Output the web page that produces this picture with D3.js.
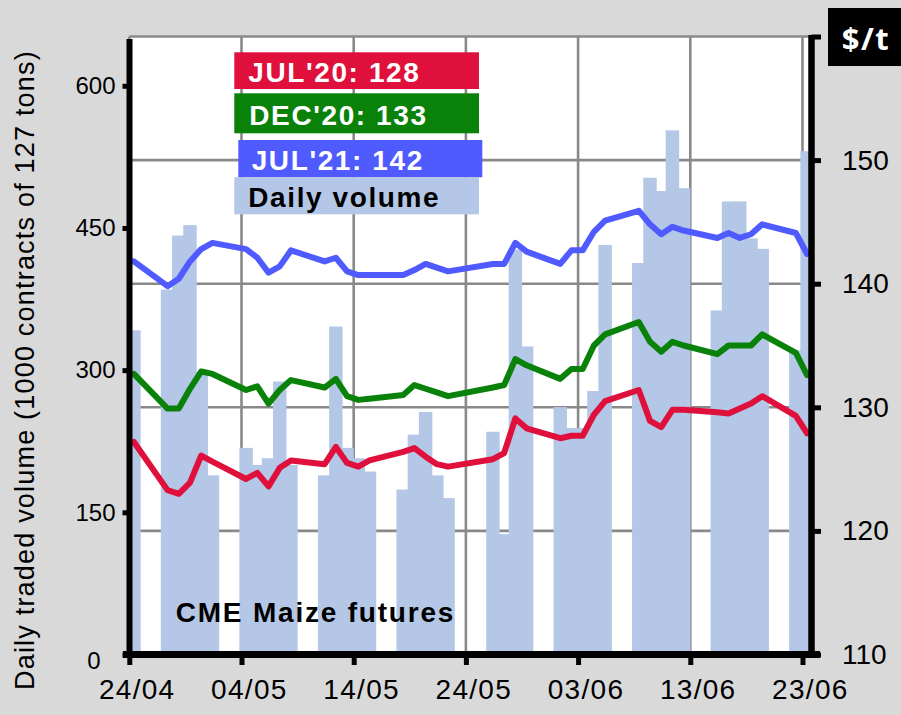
<!DOCTYPE html>
<html>
<head>
<meta charset="utf-8">
<script src="https://cdn.jsdelivr.net/npm/d3@7"></script>
<style>
  html, body { margin: 0; padding: 0; background: #d9d9d9; }
  svg { display: block; font-family: "Liberation Sans", Arial, sans-serif; }
</style>
</head>
<body>
<div id="chart"></div>
<script>
// trading days, CME maize futures, spring 2020
const DATES = [
  "2020-04-24", "2020-04-27", "2020-04-28", "2020-04-29", "2020-04-30", "2020-05-01",
  "2020-05-04", "2020-05-05", "2020-05-06", "2020-05-07", "2020-05-08",
  "2020-05-11", "2020-05-12", "2020-05-13", "2020-05-14", "2020-05-15",
  "2020-05-18", "2020-05-19", "2020-05-20", "2020-05-21", "2020-05-22",
  "2020-05-26", "2020-05-27", "2020-05-28", "2020-05-29",
  "2020-06-01", "2020-06-02", "2020-06-03", "2020-06-04", "2020-06-05",
  "2020-06-08", "2020-06-09", "2020-06-10", "2020-06-11", "2020-06-12",
  "2020-06-15", "2020-06-16", "2020-06-17", "2020-06-18", "2020-06-19",
  "2020-06-22", "2020-06-23"
];

// daily volume, 1000 contracts
const VOLUME = [
  342, 385, 442, 453, 298, 189,
  218, 200, 207, 288, 200,
  189, 346, 218, 207, 193,
  174, 232, 256, 189, 165,
  235, 127, 427, 325,
  261, 239, 239, 278, 432,
  413, 503, 489, 553, 492,
  363, 478, 478, 439, 428,
  321, 531
];

// prices, $/t
const JUL20 = [
  127.2, 123.3, 123.0, 123.9, 126.1, 125.6,
  124.2, 124.7, 123.6, 125.1, 125.7,
  125.4, 126.8, 125.5, 125.2, 125.7,
  126.4, 126.7, 126.0, 125.4, 125.2,
  125.8, 126.3, 129.1, 128.3,
  127.5, 127.7, 127.7, 129.4, 130.5,
  131.4, 128.9, 128.4, 129.8, 129.8,
  129.6, 129.5, 129.9, 130.3, 130.9,
  129.3, 127.9
];
const DEC20 = [
  132.7, 129.9, 129.9, 131.5, 132.9, 132.7,
  131.4, 131.7, 130.3, 131.4, 132.2,
  131.6, 132.3, 130.9, 130.6, 130.7,
  131.0, 131.8, 131.5, 131.2, 130.9,
  131.6, 131.8, 133.9, 133.4,
  132.3, 133.1, 133.1, 135.0, 135.9,
  136.9, 135.3, 134.5, 135.3, 135.0,
  134.3, 135.0, 135.0, 135.0, 135.9,
  134.4, 132.6
];
const JUL21 = [
  141.8, 139.8, 140.4, 141.8, 142.8, 143.3,
  142.8, 142.1, 140.9, 141.4, 142.7,
  141.8, 142.1, 141.0, 140.7, 140.7,
  140.7, 141.1, 141.6, 141.3, 141.0,
  141.6, 141.6, 143.3, 142.6,
  141.6, 142.7, 142.7, 144.2, 145.1,
  145.9, 144.8, 144.0, 144.6, 144.3,
  143.7, 144.1, 143.7, 144.0, 144.8,
  144.1, 142.4
];

const SERIES_NAMES = ["JUL'20", "DEC'20", "JUL'21"];
const SERIES_COLORS = ["#e0103c", "#0a820a", "#4f5aff"];
const VOLUME_NAME = "Daily volume";

const X_TICKS = ["2020-04-24", "2020-05-04", "2020-05-14", "2020-05-24", "2020-06-03", "2020-06-13", "2020-06-23"];
const LEFT_TICKS = [0, 150, 300, 450, 600];
const RIGHT_TICKS = [110, 120, 130, 140, 150, 160];

const W = 901, H = 715;
const plot = { left: 129.5, right: 811.5, top: 36.5, bottom: 654.5 };
const GRID = "#898989", BAR = "#b4c7e7";

const parse = d3.utcParse("%Y-%m-%d");
const days = DATES.map(parse);

const x = d3.scaleUtc()
  .domain([parse("2020-04-24"), parse("2020-06-24")])
  .range([129.3, 813.7]);
const yVol = d3.scaleLinear().domain([0, 652]).range([plot.bottom, plot.top]);
const yPx = d3.scaleLinear().domain([110, 160]).range([plot.bottom, plot.top]);

const dayW = x(parse("2020-04-25")) - x(parse("2020-04-24"));
const cx = (d) => x(d) + 0.41 * dayW;
const barW = 1.2 * dayW;

const svg = d3.select("#chart").append("svg")
  .attr("width", W)
  .attr("height", H);

svg.append("defs").append("clipPath").attr("id", "plotclip")
  .append("rect")
  .attr("x", plot.left).attr("y", plot.top)
  .attr("width", plot.right - plot.left)
  .attr("height", plot.bottom - plot.top);

svg.append("rect")
  .attr("x", plot.left).attr("y", plot.top)
  .attr("width", plot.right - plot.left)
  .attr("height", plot.bottom - plot.top)
  .attr("fill", "#fff");

// grid
const grid = svg.append("g").attr("stroke", GRID).attr("stroke-width", 2.6);
grid.selectAll("line.v")
  .data(X_TICKS.map(parse))
  .enter().append("line")
  .attr("class", "v")
  .attr("x1", (d) => x(d)).attr("x2", (d) => x(d))
  .attr("y1", plot.top).attr("y2", plot.bottom);
grid.selectAll("line.h")
  .data(RIGHT_TICKS)
  .enter().append("line")
  .attr("class", "h")
  .attr("x1", plot.left).attr("x2", plot.right)
  .attr("y1", (d) => yPx(d)).attr("y2", (d) => yPx(d));

// volume bars
svg.append("g")
  .attr("clip-path", "url(#plotclip)")
  .selectAll("rect")
  .data(VOLUME)
  .enter().append("rect")
  .attr("x", (d, i) => cx(days[i]) - barW / 2)
  .attr("width", barW)
  .attr("y", (d) => yVol(d))
  .attr("height", (d) => yVol(0) - yVol(d))
  .attr("fill", BAR);

// price lines
const line = d3.line()
  .x((d, i) => cx(days[i]))
  .y((d) => yPx(d));

svg.append("g")
  .selectAll("path")
  .data([JUL20, DEC20, JUL21])
  .enter().append("path")
  .attr("d", line)
  .attr("fill", "none")
  .attr("stroke", (d, i) => SERIES_COLORS[i])
  .attr("stroke-width", 6)
  .attr("stroke-linejoin", "round")
  .attr("stroke-linecap", "round");

// axes
const styleAxis = (g, size) => {
  g.select(".domain").remove();
  g.selectAll(".tick line").attr("stroke", "#000").attr("stroke-width", 5);
  g.selectAll(".tick text")
    .attr("fill", "#000")
    .style("font-size", size + "px")
    .style("letter-spacing", "1px");
};

svg.append("g")
  .attr("transform", "translate(" + plot.left + ",0)")
  .call(d3.axisLeft(yVol).tickValues(LEFT_TICKS).tickSize(7).tickPadding(7))
  .call((g) => styleAxis(g, 24))
  .call((g) => g.selectAll(".tick text")
    .style("letter-spacing", "0px")
    .attr("dx", (d) => d === 0 ? -15 : 0)
    .attr("dy", (d) => d === 0 ? "0.6em" : "0.32em"));

svg.append("g")
  .attr("transform", "translate(" + plot.right + ",0)")
  .call(d3.axisRight(yPx).tickValues(RIGHT_TICKS).tickSize(9.5).tickPadding(21)
    .tickFormat((d) => d === 160 ? "" : d))
  .call((g) => styleAxis(g, 28))
  .call((g) => g.selectAll(".tick text").style("letter-spacing", "0px"));

svg.append("g")
  .attr("transform", "translate(0," + plot.bottom + ")")
  .call(d3.axisBottom(x).tickValues(X_TICKS.map(parse)).tickSize(10.5).tickPadding(14)
    .tickFormat(d3.utcFormat("%d/%m")))
  .call((g) => styleAxis(g, 28))
  .call((g) => g.selectAll(".tick text").attr("dx", 7.4).style("letter-spacing", "1.3px"));

const axisLines = svg.append("g").attr("stroke", "#000");
axisLines.append("line")
  .attr("x1", plot.left).attr("x2", plot.left)
  .attr("y1", 39).attr("y2", plot.bottom + 3.5)
  .attr("stroke-width", 6);
axisLines.append("line")
  .attr("x1", plot.right).attr("x2", plot.right)
  .attr("y1", 35).attr("y2", plot.bottom + 3.5)
  .attr("stroke-width", 6.5);
axisLines.append("line")
  .attr("x1", 123).attr("x2", 820)
  .attr("y1", plot.bottom).attr("y2", plot.bottom)
  .attr("stroke-width", 7);

// axis titles
svg.append("text")
  .attr("transform", "translate(33.5,690) rotate(-90)")
  .style("font-size", "27px")
  .style("letter-spacing", "1.2px")
  .text("Daily traded volume (1000 contracts of 127 tons)");

svg.append("rect")
  .attr("x", 828).attr("y", 8)
  .attr("width", W - 828).attr("height", 58)
  .attr("fill", "#000");
svg.append("text")
  .attr("x", 866).attr("y", 49.5)
  .attr("text-anchor", "middle")
  .attr("fill", "#fff")
  .style("font-family", "'Open Sans', sans-serif")
  .style("font-weight", 700)
  .style("font-size", "31px")
  .style("letter-spacing", "1.5px")
  .text("$/t");

svg.append("text")
  .attr("x", 175.7).attr("y", 622.3)
  .style("font-weight", 700)
  .style("font-size", "28px")
  .style("letter-spacing", "1.8px")
  .text("CME Maize futures");

// legend
const last = [JUL20, DEC20, JUL21].map((s) => Math.round(s[s.length - 1]));
const legendItems = [
  { text: SERIES_NAMES[0] + ": " + last[0], fill: SERIES_COLORS[0], color: "#fff", x: 234.3, y: 52.3, w: 244.7, h: 36.7, tx: 248.3, ty: 81.7 },
  { text: SERIES_NAMES[1] + ": " + last[1], fill: SERIES_COLORS[1], color: "#fff", x: 234.3, y: 93.3, w: 244.7, h: 40, tx: 249.3, ty: 124.5 },
  { text: SERIES_NAMES[2] + ": " + last[2], fill: SERIES_COLORS[2], color: "#fff", x: 238.3, y: 140, w: 244, h: 37.3, tx: 251.7, ty: 170 },
  { text: VOLUME_NAME, fill: BAR, color: "#000", x: 234.3, y: 177.3, w: 244.7, h: 37, tx: 248.3, ty: 207.3 }
];
const legend = svg.append("g");
legend.selectAll("rect")
  .data(legendItems)
  .enter().append("rect")
  .attr("x", (d) => d.x).attr("y", (d) => d.y)
  .attr("width", (d) => d.w).attr("height", (d) => d.h)
  .attr("fill", (d) => d.fill);
legend.selectAll("text")
  .data(legendItems)
  .enter().append("text")
  .attr("x", (d) => d.tx).attr("y", (d) => d.ty)
  .attr("fill", (d) => d.color)
  .style("font-weight", 700)
  .style("font-size", "28px")
  .style("letter-spacing", "1.6px")
  .text((d) => d.text);
</script>
</body>
</html>
